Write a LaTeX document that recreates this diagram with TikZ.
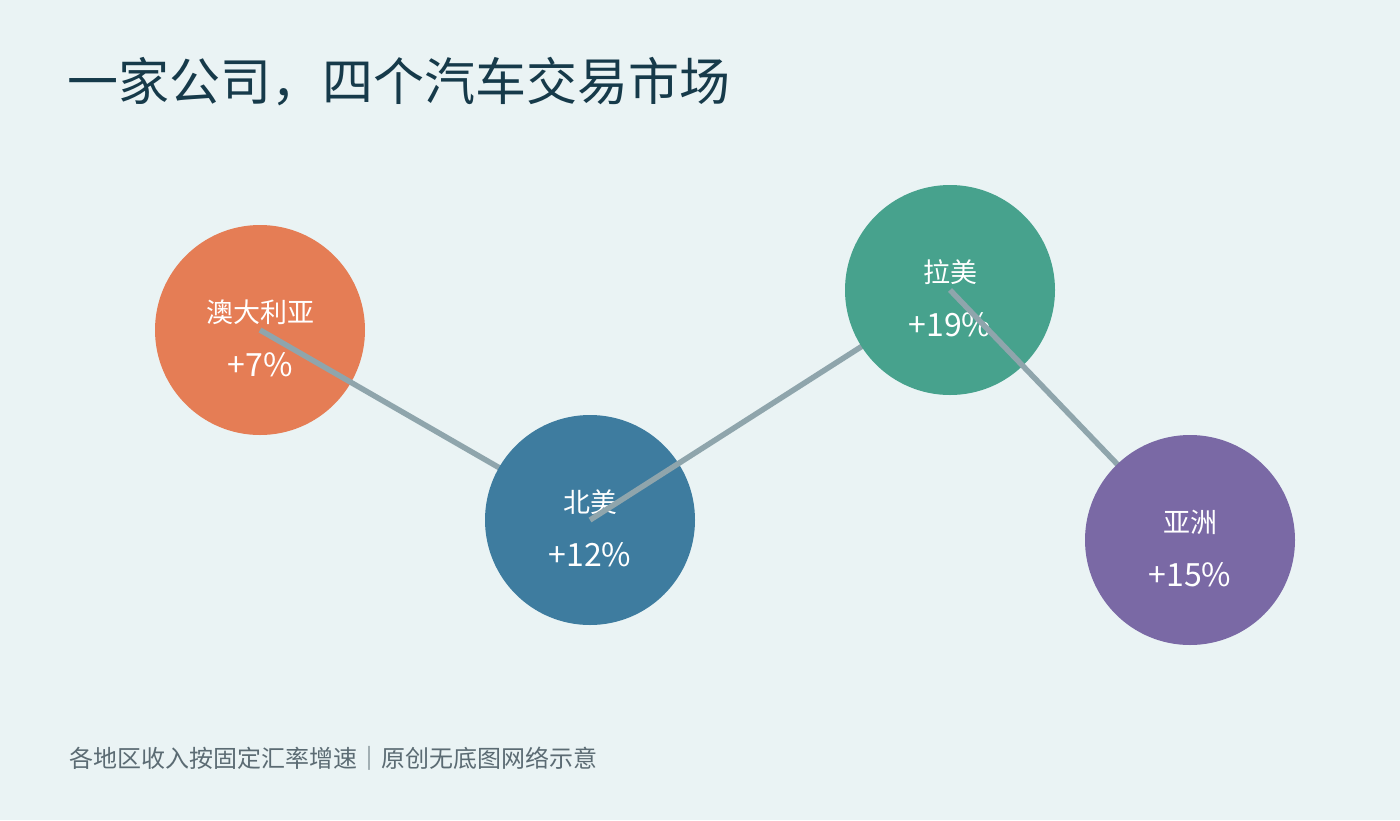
\documentclass[tikz,border=0pt]{standalone}
\usepackage{fontspec}
\setmainfont{Noto Sans CJK SC}
\usetikzlibrary{positioning}
\definecolor{bgc}{HTML}{EAF3F4}
\definecolor{titlec}{HTML}{163A4A}
\definecolor{footc}{HTML}{5B6B73}
\definecolor{linkc}{HTML}{8FA5AC}
\definecolor{ausc}{HTML}{E57D55}
\definecolor{nac}{HTML}{3E7C9F}
\definecolor{latc}{HTML}{47A28D}
\definecolor{asiac}{HTML}{7A69A5}
\tikzset{
  market/.style={circle,minimum size=210pt,inner sep=0pt},
  region/.style={text=white,font=\fontsize{27pt}{30pt}\selectfont},
  growth/.style={text=white,font=\fontsize{32pt}{36pt}\selectfont},
  link/.style={linkc,line width=5.5pt}
}
\begin{document}
\begin{tikzpicture}[x=1pt,y=-1pt]
  \fill[bgc] (0,0) rectangle (1400,820);
  \useasboundingbox (0,0) rectangle (1400,820);

  \node[anchor=west,text=titlec,font=\fontsize{51pt}{56pt}\selectfont] (title) at (64,82) {一家公司，四个汽车交易市场};

  \node[market,fill=ausc] (aus) at (260,330) {};
  \node[region] (ausname) at (260,312) {澳大利亚};
  \node[growth] (ausval) at (260,365) {+7\%};
  \draw[link] (aus.center) -- (590,520) coordinate (nac);

  \node[market,fill=nac] (na) at (nac) {};
  \node[region] (naname) at (590,502) {北美};
  \node[growth] (naval) at (590,555) {+12\%};
  \draw[link] (na.center) -- (950,290) coordinate (latc);

  \node[market,fill=latc] (lat) at (latc) {};
  \node[region] (latname) at (950,272) {拉美};
  \node[growth] (latval) at (950,325) {+19\%};
  \draw[link] (lat.center) -- (1190,540) coordinate (asiac);

  \node[market,fill=asiac] (asia) at (asiac) {};
  \node[region] (asianame) at (1190,522) {亚洲};
  \node[growth] (asiaval) at (1190,575) {+15\%};

  \node[anchor=west,text=footc,font=\fontsize{24pt}{28pt}\selectfont] (foot) at (66,758) {各地区收入按固定汇率增速｜原创无底图网络示意};
\end{tikzpicture}
\end{document}
